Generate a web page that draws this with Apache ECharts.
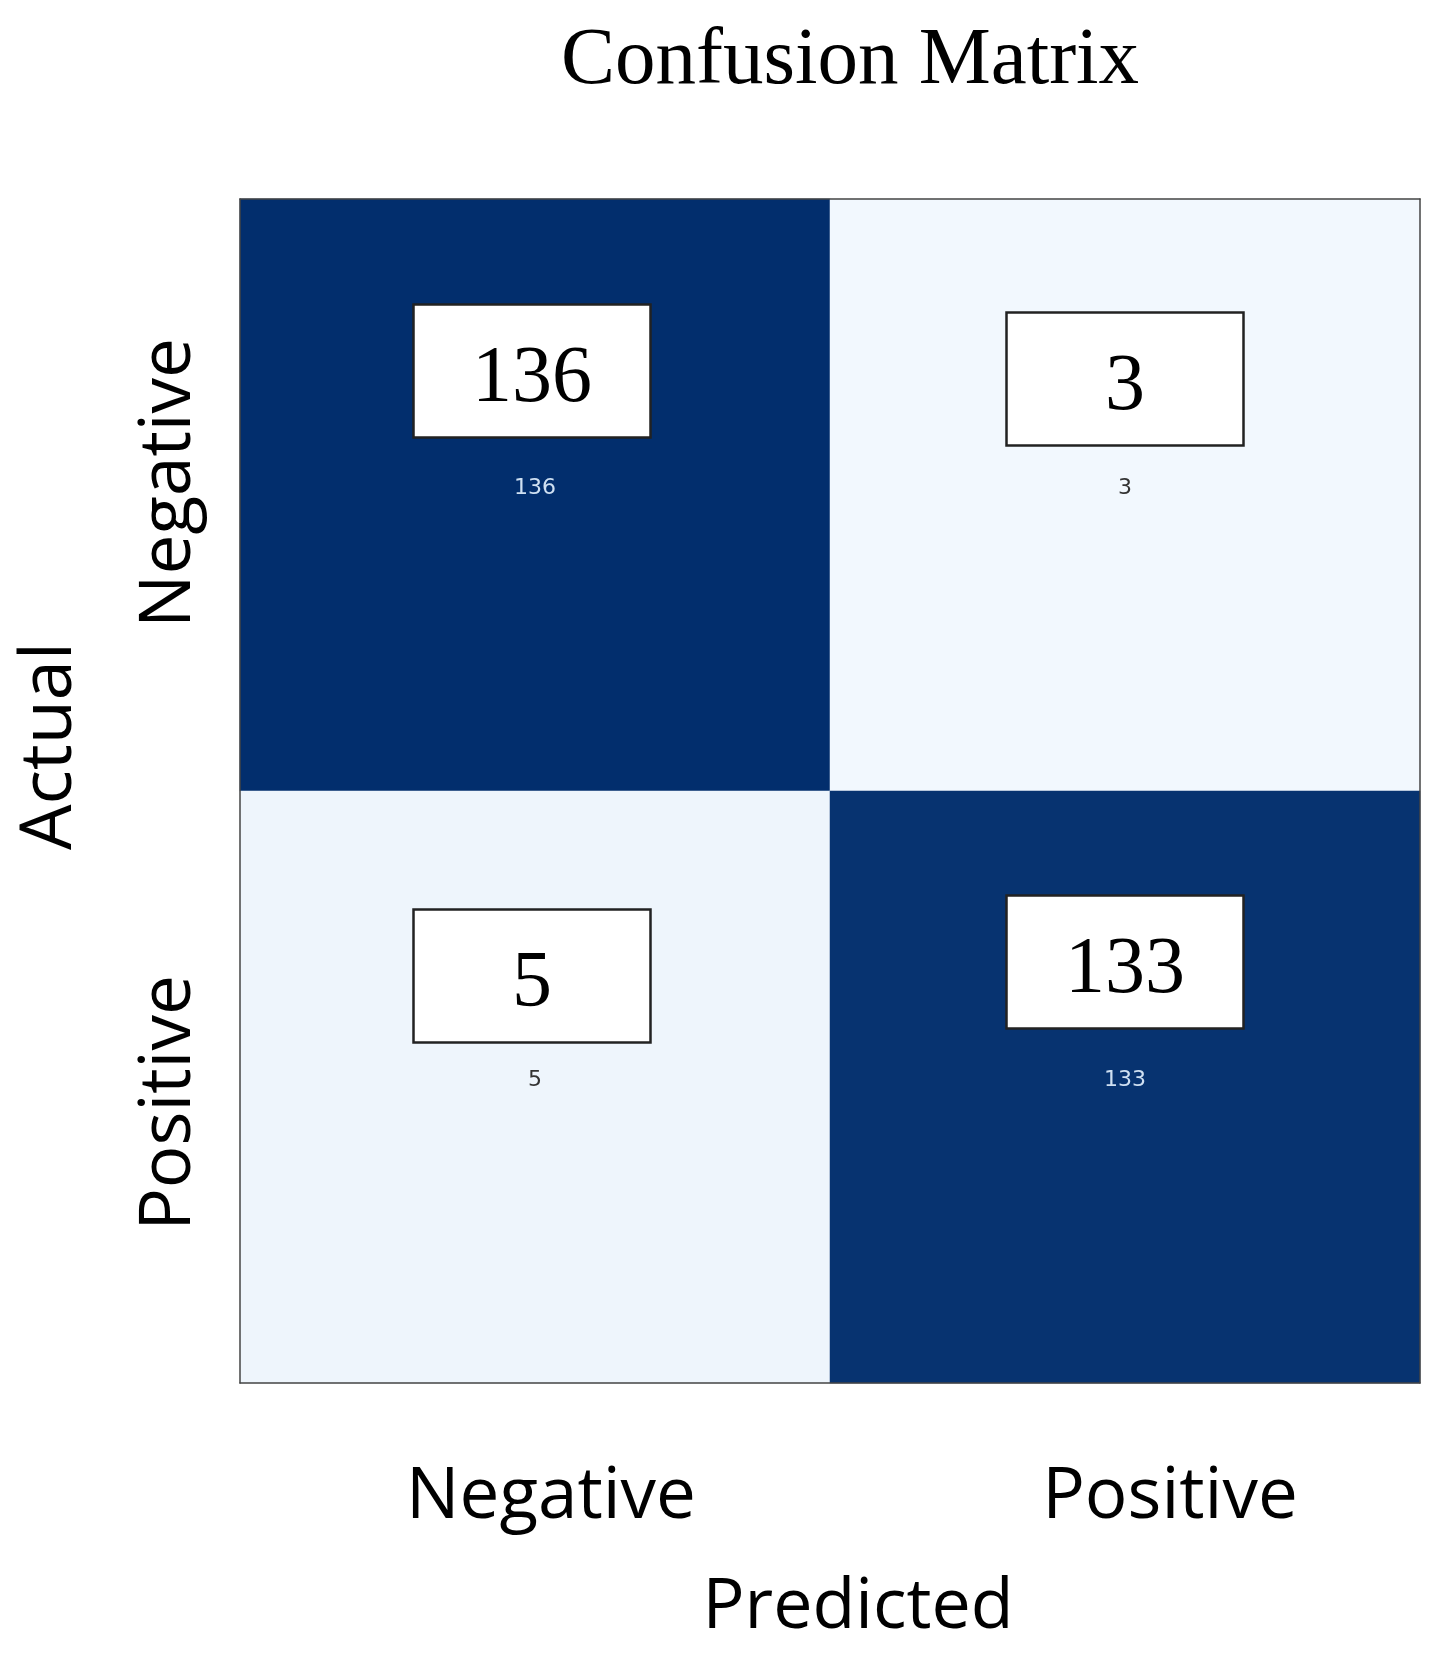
<!DOCTYPE html>
<html>
<head>
<meta charset="utf-8">
<script src="https://cdn.jsdelivr.net/npm/echarts@6/dist/echarts.min.js"></script>
<style>
  html, body { margin: 0; padding: 0; background: #fff; }
  #chart { width: 1440px; height: 1661px; }
</style>
</head>
<body>
<div id="chart"></div>
<script>
// 数据
const predicted = ['Negative', 'Positive'];
const actual = ['Negative', 'Positive'];
const counts = [
    [136, 3],
    [5, 133]
];

// 白色标注框的位置微调 (像素)
const boxShiftX = [[-3, 0], [-3, 0]];
const boxShiftY = [[-124, -116], [-111, -125]];
const BOX_W = 237, BOX_H = 133;

const cellData = [];
const boxData = [];
for (let r = 0; r < actual.length; r++) {
    for (let c = 0; c < predicted.length; c++) {
        const v = counts[r][c];
        cellData.push({
            value: [c, r, v],
            label: { color: v > 60 ? '#cfe0f2' : '#333' }
        });
        boxData.push([c, r, v, boxShiftX[r][c], boxShiftY[r][c]]);
    }
}

const SANS = '"Open Sans", sans-serif';
const chart = echarts.init(document.getElementById('chart'));

const option = {
    backgroundColor: '#fff',
    animation: false,
    title: {
        text: 'Confusion Matrix',
        left: 845,
        textAlign: 'center',
        top: 16,
        textStyle: { fontFamily: '"Liberation Serif", serif', fontWeight: 'normal', fontSize: 81, color: '#000' }
    },
    grid: { left: 240, right: 20, top: 199, bottom: 278, outerBoundsMode: 'none' },
    xAxis: [
        {
            type: 'category',
            data: predicted,
            position: 'bottom',
            z: 5,
            name: 'Predicted',
            nameLocation: 'middle',
            nameGap: 190,
            nameTextStyle: { fontFamily: SANS, fontSize: 70, color: '#000', padding: [0, 0, 0, 56] },
            axisLine: { lineStyle: { color: '#444', width: 1.5 } },
            axisTick: { alignWithLabel: true, length: 7, lineStyle: { color: '#444' } },
            axisLabel: {
                margin: 79,
                formatter: (v) => v === 'Negative' ? '{n|' + v + '}' : '{p|' + v + '}',
                rich: {
                    n: { fontFamily: SANS, fontSize: 71, color: '#000', padding: [0, 0, 0, 32] },
                    p: { fontFamily: SANS, fontSize: 71, color: '#000', padding: [0, 0, 0, 90] }
                }
            },
            splitLine: { show: false }
        },
        {
            type: 'category',
            data: predicted,
            position: 'top',
            z: 5,
            axisLine: { lineStyle: { color: '#444', width: 1.5 } },
            axisTick: { show: false },
            axisLabel: { show: false }
        }
    ],
    yAxis: [
        {
            type: 'category',
            data: actual,
            inverse: true,
            position: 'left',
            z: 5,
            name: 'Actual',
            nameLocation: 'middle',
            nameGap: 154,
            nameRotate: 90,
            nameTextStyle: { fontFamily: SANS, fontSize: 72, color: '#000', padding: [0, 0, 0, 90] },
            axisLine: { lineStyle: { color: '#444', width: 1.5 } },
            axisTick: { alignWithLabel: true, length: 7, lineStyle: { color: '#444' } },
            axisLabel: {
                rotate: 90,
                margin: 35,
                formatter: (v) => v === 'Negative' ? '{n|' + v + '}' : '{p|' + v + '}',
                rich: {
                    n: { fontFamily: SANS, fontSize: 71, color: '#000', padding: [0, 0, 0, 24] },
                    p: { fontFamily: SANS, fontSize: 71, color: '#000', padding: [0, 32, 0, 0] }
                }
            },
            splitLine: { show: false }
        },
        {
            type: 'category',
            data: actual,
            inverse: true,
            position: 'right',
            z: 5,
            axisLine: { lineStyle: { color: '#444', width: 1.5 } },
            axisTick: { show: false },
            axisLabel: { show: false }
        }
    ],
    visualMap: {
        show: false,
        min: 3,
        max: 136,
        dimension: 2,
        seriesIndex: 0,
        inRange: { color: ['#f2f8fe', '#022e6d'] }
    },
    series: [
        {
            type: 'heatmap',
            data: cellData,
            label: {
                show: true,
                fontFamily: '"DejaVu Sans", sans-serif',
                fontSize: 22,
                offset: [0, -7]
            },
            itemStyle: { borderWidth: 0 },
            emphasis: { disabled: true }
        },
        {
            type: 'custom',
            data: boxData,
            z: 10,
            renderItem: function (params, api) {
                const p = api.coord([api.value(0), api.value(1)]);
                const cx = p[0] + api.value(3);
                const cy = p[1] + api.value(4);
                return {
                    type: 'group',
                    children: [
                        {
                            type: 'rect',
                            shape: { x: cx - BOX_W / 2, y: cy - BOX_H / 2, width: BOX_W, height: BOX_H },
                            style: { fill: '#fff', stroke: '#222', lineWidth: 2.5 }
                        },
                        {
                            type: 'text',
                            x: cx,
                            y: cy + 9,
                            style: {
                                text: String(api.value(2)),
                                fontFamily: '"Liberation Serif", serif',
                                fontSize: 80,
                                fill: '#000',
                                align: 'center',
                                verticalAlign: 'middle'
                            }
                        }
                    ]
                };
            }
        }
    ]
};

chart.setOption(option);

window.addEventListener('resize', () => chart.resize());
</script>
</body>
</html>
